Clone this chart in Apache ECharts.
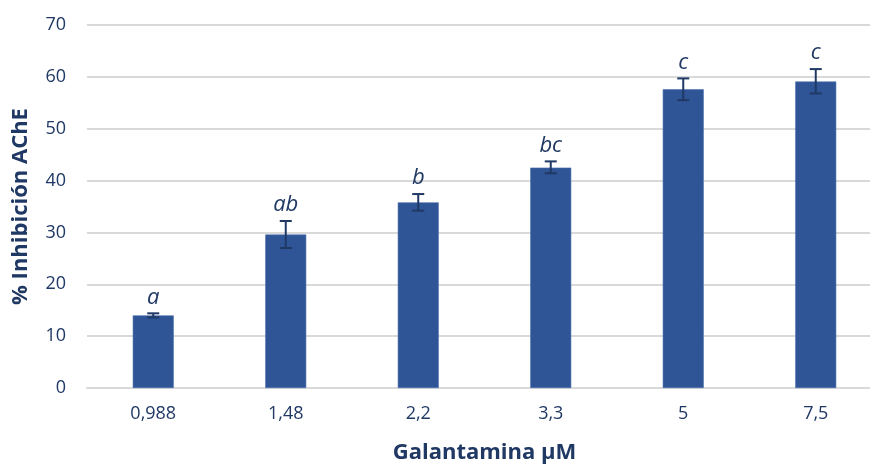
<!DOCTYPE html>
<html>
<head>
<meta charset="utf-8">
<script src="https://cdn.jsdelivr.net/npm/echarts@6/dist/echarts.min.js"></script>
<style>
  html, body { margin: 0; padding: 0; background: #fff; }
  #chart { width: 870px; height: 466px; }
</style>
</head>
<body>
<div id="chart"></div>
<script>
// Galantamine concentrations (µM) and mean AChE inhibition (%)
const categories = ['0,988', '1,48', '2,2', '3,3', '5', '7,5'];
const inhibition = [14.0, 29.6, 35.8, 42.5, 57.6, 59.1];
const errorLow = [13.6, 27.0, 34.2, 41.4, 55.5, 56.8];
const errorHigh = [14.4, 32.2, 37.4, 43.7, 59.7, 61.5];
const groupLetters = ['a', 'ab', 'b', 'bc', 'c', 'c'];
const yTicks = { min: 0, max: 70, interval: 10 };

const navy = '#1F3864';
const barBlue = '#2F5597';
const font = '"Open Sans", "Noto Sans", sans-serif';

const errorData = categories.map((c, i) => [i, errorLow[i], errorHigh[i], groupLetters[i]]);

const chart = echarts.init(document.getElementById('chart'), null, { renderer: 'canvas' });

chart.setOption({
  animation: false,
  grid: {
    left: 87, top: 25, width: 795, height: 363,
    containLabel: false,
    outerBoundsMode: 'none'
  },
  xAxis: {
    type: 'category',
    data: categories,
    name: 'Galantamina µM',
    nameLocation: 'middle',
    nameGap: 54,
    nameTextStyle: { color: navy, fontSize: 22, fontWeight: 'bold', fontFamily: font },
    axisLine: { lineStyle: { color: '#D9D9D9', width: 2 } },
    axisTick: { show: false },
    axisLabel: { color: navy, fontSize: 18, fontFamily: font, margin: 17 }
  },
  yAxis: {
    type: 'value',
    min: yTicks.min,
    max: yTicks.max,
    interval: yTicks.interval,
    name: '% Inhibición AChE',
    nameLocation: 'middle',
    nameGap: 55,
    nameTextStyle: { color: navy, fontSize: 22, fontWeight: 'bold', fontFamily: font },
    axisLine: { show: false },
    axisTick: { show: false },
    axisLabel: { color: navy, fontSize: 18, fontFamily: font, margin: 21 },
    splitLine: { lineStyle: { color: '#D9D9D9', width: 2 } }
  },
  series: [
    {
      type: 'bar',
      data: inhibition,
      barWidth: 41,
      itemStyle: { color: barBlue, borderColor: '#4A6FAD', borderWidth: 0.6 }
    },
    {
      type: 'custom',
      data: errorData,
      z: 10,
      renderItem: function (params, api) {
        const idx = api.value(0);
        const lo = api.coord([idx, api.value(1)]);
        const hi = api.coord([idx, api.value(2)]);
        const cap = 6;
        const style = { stroke: navy, lineWidth: 2 };
        return {
          type: 'group',
          children: [
            { type: 'line', shape: { x1: hi[0], y1: hi[1], x2: lo[0], y2: lo[1] }, style: style },
            { type: 'line', shape: { x1: hi[0] - cap, y1: hi[1], x2: hi[0] + cap, y2: hi[1] }, style: style },
            { type: 'line', shape: { x1: lo[0] - cap, y1: lo[1], x2: lo[0] + cap, y2: lo[1] }, style: style },
            {
              type: 'text',
              x: hi[0],
              y: hi[1] - 5,
              style: {
                text: groupLetters[params.dataIndex],
                fill: navy,
                font: 'italic 22px ' + font,
                align: 'center',
                verticalAlign: 'bottom'
              }
            }
          ]
        };
      }
    }
  ]
});
</script>
</body>
</html>
